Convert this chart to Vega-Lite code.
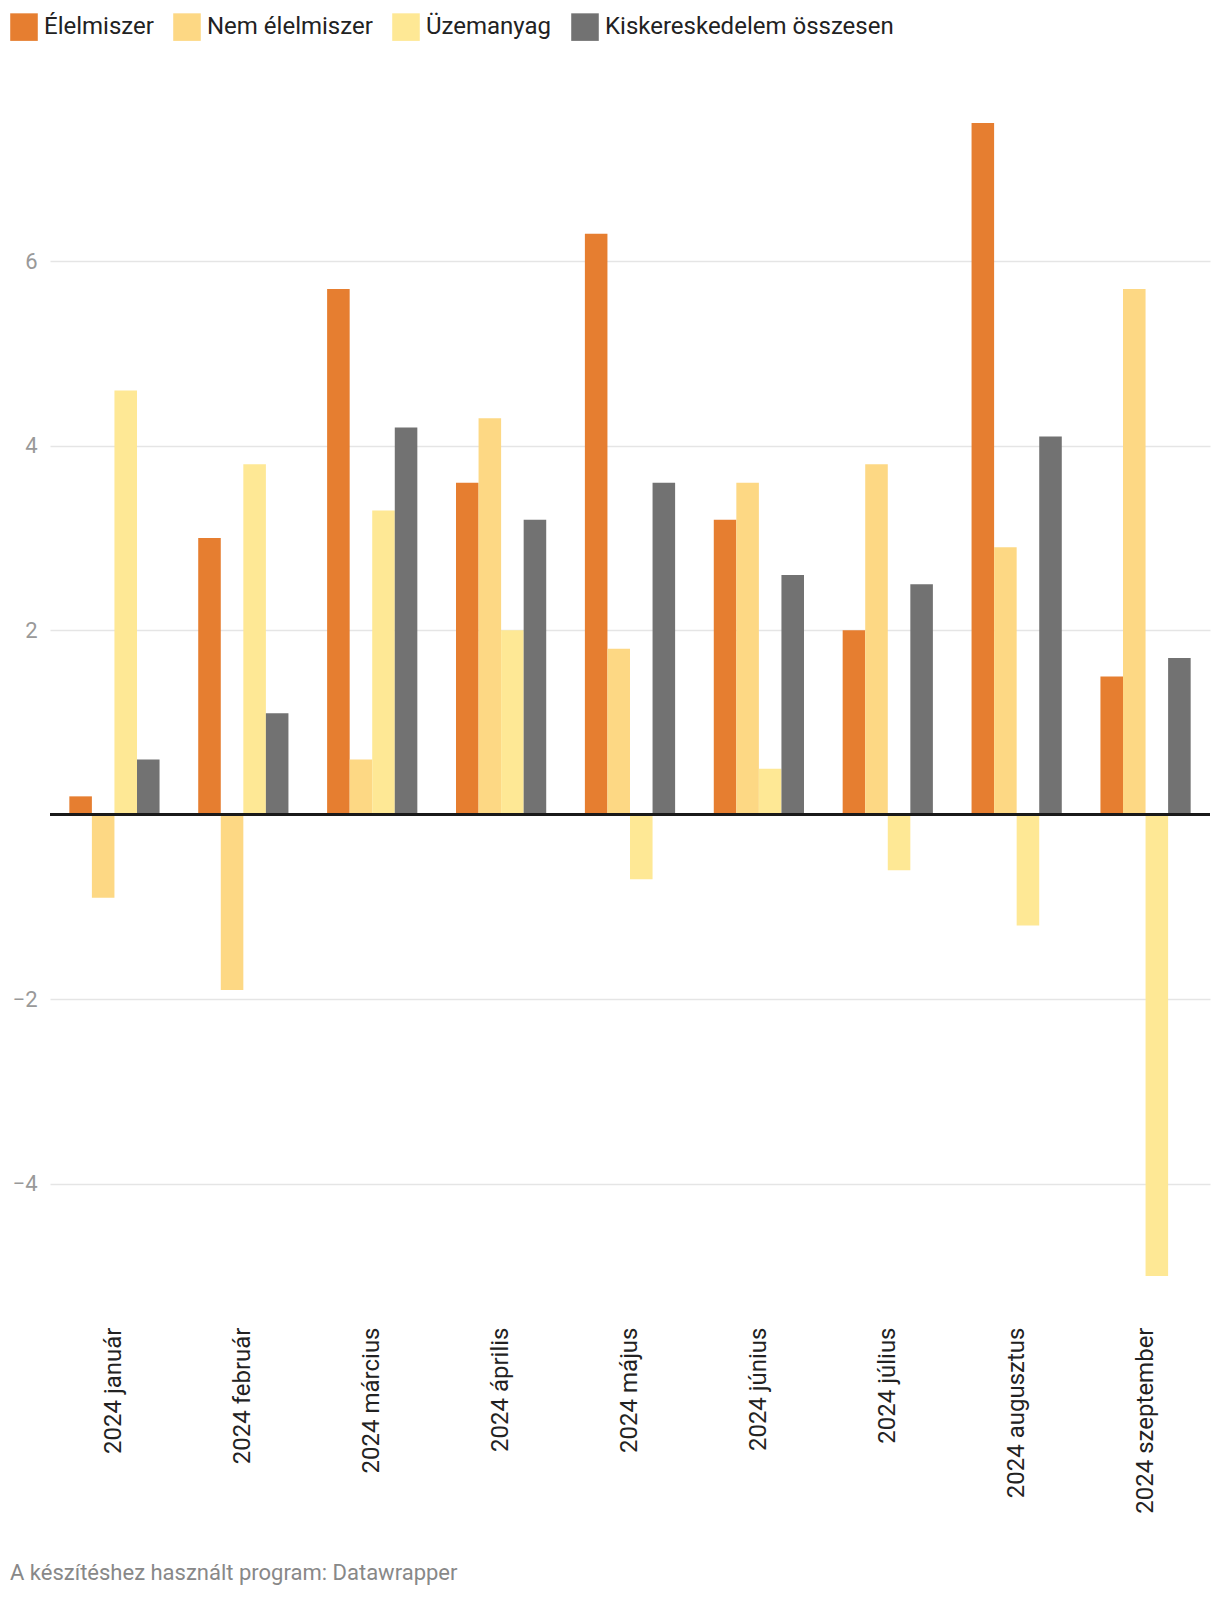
{
  "$schema": "https://vega.github.io/schema/vega-lite/v6.json",
  "autosize": "none",
  "width": 1160,
  "height": 1153,
  "padding": {"left": 50, "top": 123, "right": 10, "bottom": 322},
  "background": "white",
  "config": {
    "view": {"stroke": null},
    "font": "Roboto"
  },
  "title": {
    "text": "A készítéshez használt program: Datawrapper",
    "orient": "bottom",
    "anchor": "start",
    "frame": "group",
    "dx": -40,
    "offset": 50,
    "font": "Roboto",
    "fontSize": 22,
    "fontWeight": "normal",
    "color": "#888888"
  },
  "data": {
    "values": [
      {"honap": "2024 január", "sor": "Élelmiszer", "ertek": 0.2},
      {"honap": "2024 január", "sor": "Nem élelmiszer", "ertek": -0.9},
      {"honap": "2024 január", "sor": "Üzemanyag", "ertek": 4.6},
      {"honap": "2024 január", "sor": "Kiskereskedelem összesen", "ertek": 0.6},
      {"honap": "2024 február", "sor": "Élelmiszer", "ertek": 3.0},
      {"honap": "2024 február", "sor": "Nem élelmiszer", "ertek": -1.9},
      {"honap": "2024 február", "sor": "Üzemanyag", "ertek": 3.8},
      {"honap": "2024 február", "sor": "Kiskereskedelem összesen", "ertek": 1.1},
      {"honap": "2024 március", "sor": "Élelmiszer", "ertek": 5.7},
      {"honap": "2024 március", "sor": "Nem élelmiszer", "ertek": 0.6},
      {"honap": "2024 március", "sor": "Üzemanyag", "ertek": 3.3},
      {"honap": "2024 március", "sor": "Kiskereskedelem összesen", "ertek": 4.2},
      {"honap": "2024 április", "sor": "Élelmiszer", "ertek": 3.6},
      {"honap": "2024 április", "sor": "Nem élelmiszer", "ertek": 4.3},
      {"honap": "2024 április", "sor": "Üzemanyag", "ertek": 2.0},
      {"honap": "2024 április", "sor": "Kiskereskedelem összesen", "ertek": 3.2},
      {"honap": "2024 május", "sor": "Élelmiszer", "ertek": 6.3},
      {"honap": "2024 május", "sor": "Nem élelmiszer", "ertek": 1.8},
      {"honap": "2024 május", "sor": "Üzemanyag", "ertek": -0.7},
      {"honap": "2024 május", "sor": "Kiskereskedelem összesen", "ertek": 3.6},
      {"honap": "2024 június", "sor": "Élelmiszer", "ertek": 3.2},
      {"honap": "2024 június", "sor": "Nem élelmiszer", "ertek": 3.6},
      {"honap": "2024 június", "sor": "Üzemanyag", "ertek": 0.5},
      {"honap": "2024 június", "sor": "Kiskereskedelem összesen", "ertek": 2.6},
      {"honap": "2024 július", "sor": "Élelmiszer", "ertek": 2.0},
      {"honap": "2024 július", "sor": "Nem élelmiszer", "ertek": 3.8},
      {"honap": "2024 július", "sor": "Üzemanyag", "ertek": -0.6},
      {"honap": "2024 július", "sor": "Kiskereskedelem összesen", "ertek": 2.5},
      {"honap": "2024 augusztus", "sor": "Élelmiszer", "ertek": 7.5},
      {"honap": "2024 augusztus", "sor": "Nem élelmiszer", "ertek": 2.9},
      {"honap": "2024 augusztus", "sor": "Üzemanyag", "ertek": -1.2},
      {"honap": "2024 augusztus", "sor": "Kiskereskedelem összesen", "ertek": 4.1},
      {"honap": "2024 szeptember", "sor": "Élelmiszer", "ertek": 1.5},
      {"honap": "2024 szeptember", "sor": "Nem élelmiszer", "ertek": 5.7},
      {"honap": "2024 szeptember", "sor": "Üzemanyag", "ertek": -5.0},
      {"honap": "2024 szeptember", "sor": "Kiskereskedelem összesen", "ertek": 1.7}
    ]
  },
  "layer": [
    {
      "mark": {"type": "bar", "cornerRadius": 0},
      "encoding": {
        "x": {
          "field": "honap",
          "type": "nominal",
          "sort": null,
          "scale": {"paddingInner": 0.3, "paddingOuter": 0.15},
          "axis": {
            "title": null,
            "domain": false,
            "ticks": false,
            "labelAngle": -90,
            "labelAlign": "right",
            "labelBaseline": "middle",
            "labelPadding": 51,
            "labelFont": "Roboto",
            "labelFontSize": 24,
            "labelColor": "#222222",
            "labelLimit": 400
          }
        },
        "xOffset": {
          "field": "sor",
          "type": "nominal",
          "sort": ["Élelmiszer", "Nem élelmiszer", "Üzemanyag", "Kiskereskedelem összesen"],
          "scale": {"paddingInner": 0, "paddingOuter": 0}
        },
        "y": {
          "field": "ertek",
          "type": "quantitative",
          "scale": {"domain": [-5, 7.5], "nice": false, "zero": false},
          "axis": {
            "title": null,
            "domain": false,
            "ticks": false,
            "values": [-4, -2, 2, 4, 6],
            "format": "d",
            "labelFont": "Roboto",
            "labelFontSize": 22,
            "labelColor": "#999999",
            "labelPadding": 13,
            "gridColor": "#e5e5e5",
            "gridWidth": 1.5
          }
        },
        "color": {
          "field": "sor",
          "type": "nominal",
          "sort": ["Élelmiszer", "Nem élelmiszer", "Üzemanyag", "Kiskereskedelem összesen"],
          "scale": {
            "domain": ["Élelmiszer", "Nem élelmiszer", "Üzemanyag", "Kiskereskedelem összesen"],
            "range": ["#E67E30", "#FDD884", "#FEE895", "#727272"]
          },
          "legend": {
            "title": null,
            "orient": "none",
            "direction": "horizontal",
            "columns": 4,
            "legendX": -40,
            "legendY": -110,
            "symbolType": "square",
            "symbolSize": 760,
            "symbolStrokeWidth": 0,
            "symbolOpacity": 1,
            "labelFont": "Roboto",
            "labelFontSize": 24,
            "labelColor": "#222222",
            "labelOffset": 6,
            "labelLimit": 500,
            "columnPadding": 19
          }
        }
      }
    },
    {
      "mark": {"type": "rule", "color": "#1a1a1a", "strokeWidth": 2},
      "encoding": {"y": {"datum": 0}}
    }
  ]
}
